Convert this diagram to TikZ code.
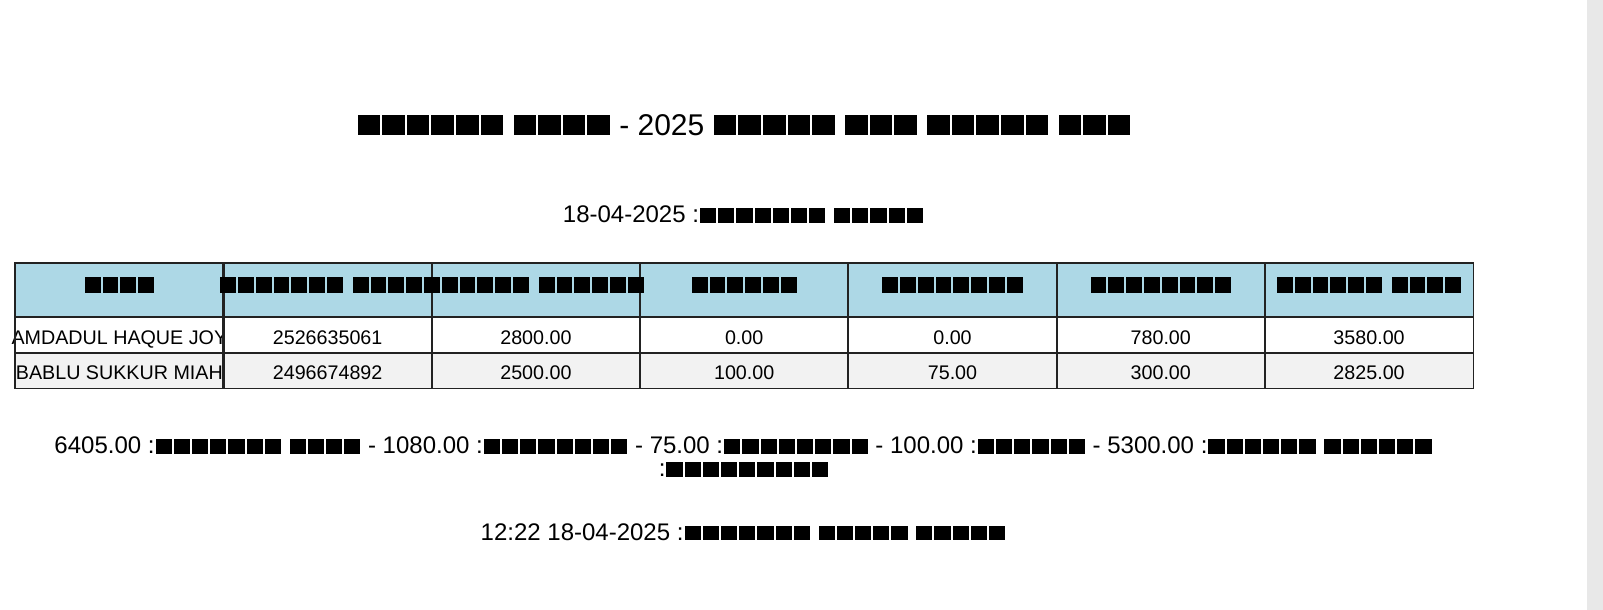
\documentclass[tikz,border=0pt]{standalone}
\usepackage{fontspec}
\setmainfont{Liberation Sans}
\definecolor{hdrblue}{HTML}{ADD8E6}
\definecolor{rowgray}{HTML}{F2F2F2}
\definecolor{sidegray}{HTML}{E8E8E8}
\definecolor{gridline}{HTML}{222222}
\newlength\bwd \newlength\bht \newlength\bgap
\newcommand\Bx[1]{\foreach\bxi in {1,...,#1}{\kern\bgap\rule{\bwd}{\bht}\kern\bgap}}
\newcommand\bxset[3]{\setlength\bwd{#1}\setlength\bht{#2}\setlength\bgap{#3}}
\newcommand\wsp{\hspace{8pt}}
\newcommand\bodyfont{\fontsize{24}{28}\selectfont\bxset{16.2pt}{14.5pt}{1pt}}
\newcommand\hdrbx{\bxset{15.8pt}{15.5pt}{1pt}}
\tikzset{
  line/.style={anchor=base, inner sep=0pt, font=\bodyfont},
  cell/.style={minimum width=208.2857pt,
    inner sep=0pt, anchor=north west, text height=18.5pt, text depth=0pt,
    font=\fontsize{19.7}{23}\selectfont},
  hcell/.style={cell, minimum height=54pt, fill=hdrblue, text height=5pt},
  rowa/.style={cell, minimum height=35.5pt, fill=white},
  rowb/.style={cell, minimum height=35.5pt, fill=rowgray},
  htext/.style={inner sep=0pt, text height=5pt, text depth=0pt},
  border/.style={draw=gridline, line width=1.8pt}
}
\begin{document}
\begin{tikzpicture}[x=1pt,y=-1pt]
\useasboundingbox (0,0) rectangle (1603,610);
\fill[white] (0,0) rectangle (1603,610);
\fill[sidegray] (1586.5,0) rectangle (1603,610);

% title and date
\node[anchor=base, inner sep=0pt] (title) at (744,135)
  {\fontsize{30}{36}\selectfont\bxset{22.6pt}{20pt}{1pt}\Bx{6} \Bx{4} - 2025 \Bx{5} \Bx{3} \Bx{5} \Bx{3}};
\node[line] (date) at (743.5,222.7) {18-04-2025 :\Bx{7} \Bx{5}};

% header row
\node[hcell] (h0) at (15+208.2857*0,263) {\hdrbx\Bx{4}};
\node[hcell] (h1) at (15+208.2857*1,263) {};
\node[hcell] (h2) at (15+208.2857*2,263) {};
\node[hcell] (h3) at (15+208.2857*3,263) {\hdrbx\Bx{6}};
\node[hcell] (h4) at (15+208.2857*4,263) {\hdrbx\Bx{8}};
\node[hcell] (h5) at (15+208.2857*5,263) {\hdrbx\Bx{8}};
\node[hcell] (h6) at (15+208.2857*6,263) {\hdrbx\Bx{6}\wsp\Bx{4}};

% data rows
\foreach \t [count=\i from 0] in {{AMDADUL HAQUE JOY},2526635061,2800.00,0.00,0.00,780.00,3580.00}
  \node[rowa] (a\i) at (15+208.2857*\i,317) {\makebox[0pt]{\t}};
\foreach \t [count=\i from 0] in {{BABLU SUKKUR MIAH},2496674892,2500.00,100.00,75.00,300.00,2825.00}
  \node[rowb] (b\i) at (15+208.2857*\i,352.5) {\makebox[0pt]{\t}};

% cell borders on top of all fills
\foreach \r in {h,a,b}
  \foreach \i in {0,...,6}
    \draw[border] (\r\i.north west) rectangle (\r\i.south east);

% header text running over the boundary of columns 2 and 3
\node[htext] (h12) at (h1.east) {\hdrbx\Bx{7}\wsp\Bx{10}\wsp\Bx{6}};

% summary
\node[line, text depth=0pt] (sum1) at (743.5,453.5)
  {6405.00 :\Bx{7} \Bx{4} - 1080.00 :\Bx{8} - 75.00 :\Bx{8} - 100.00 :\Bx{6} - 5300.00 :\Bx{6} \Bx{6}};
\node[line, text height=14.5pt] (sum2) at (744,476.5) {:\Bx{9}};

% print stamp
\node[line] (stamp) at (743.5,540) {12:22 18-04-2025 :\Bx{7} \Bx{5} \Bx{5}};
\end{tikzpicture}
\end{document}
